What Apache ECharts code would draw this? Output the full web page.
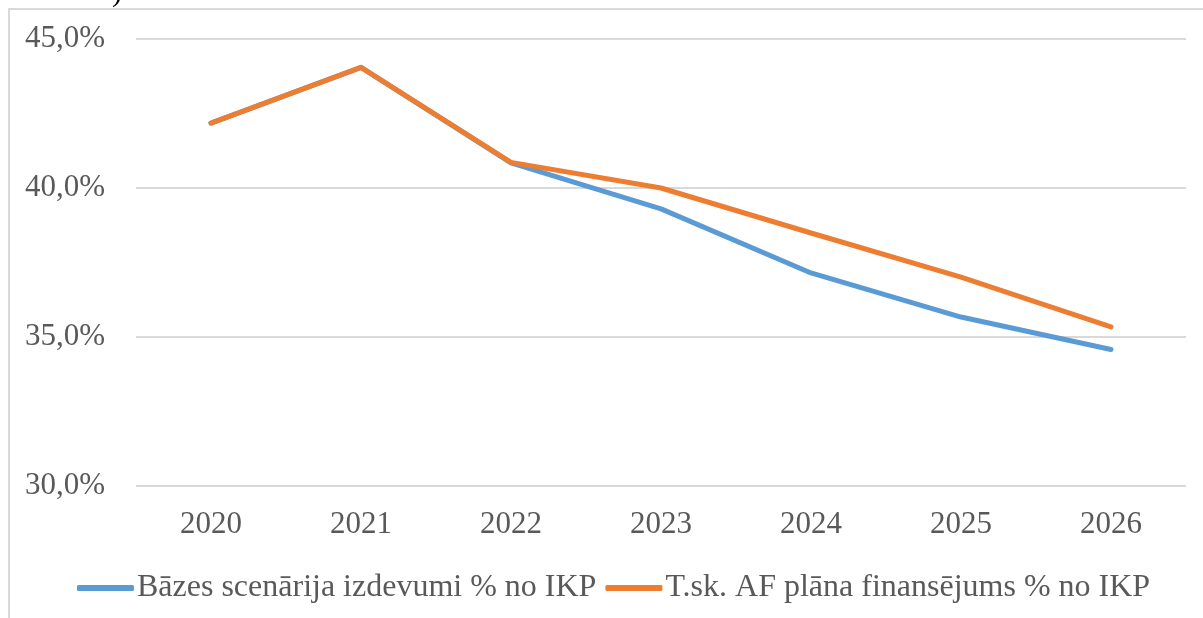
<!DOCTYPE html>
<html>
<head>
<meta charset="utf-8">
<script src="https://cdn.jsdelivr.net/npm/echarts@6/dist/echarts.min.js"></script>
<style>
  html, body { margin: 0; padding: 0; background: #fff; }
  #chart { width: 1203px; height: 618px; }
</style>
</head>
<body>
<div id="chart"></div>
<script>
// dati
const years = ['2020', '2021', '2022', '2023', '2024', '2025', '2026']
const baseSpend = [42.18, 44.05, 40.84, 39.3, 37.15, 35.67, 34.58]
const afFunding = [42.18, 44.05, 40.86, 40.0, 38.49, 37.01, 35.34]
const seriesNames = ['Bāzes scenārija izdevumi % no IKP', 'T.sk. AF plāna finansējums % no IKP']

const colors = ['#5B9BD5', '#ED7D31']
const textColor = '#595959'
const font = 'Liberation Serif'

const chart = echarts.init(document.getElementById('chart'))

const lineSeries = (name, data) => ({
  name,
  type: 'line',
  data,
  symbol: 'none',
  lineStyle: { width: 5, cap: 'round', join: 'round' },
})

chart.setOption({
  animation: false,
  color: colors,
  textStyle: { fontFamily: font },
  graphic: [
    {
      type: 'rect',
      shape: { x: 9, y: 9, width: 1220, height: 640 },
      style: { fill: 'none', stroke: '#D9D9D9', lineWidth: 2 },
      silent: true,
    },
    {
      type: 'text',
      left: 112,
      top: -22,
      style: { text: ')', font: '30px "Liberation Serif"', fill: '#000' },
    },
  ],
  grid: { left: 136, right: 17, top: 39, bottom: 132 },
  legend: {
    top: 567,
    left: 72,
    itemWidth: 57,
    itemHeight: 6,
    itemGap: 9,
    icon: 'roundRect',
    textStyle: { fontFamily: font, fontSize: 32, color: textColor, padding: [0, 0, 0, -2] },
    data: seriesNames,
  },
  xAxis: {
    type: 'category',
    data: years,
    boundaryGap: true,
    axisLine: { show: false },
    axisTick: { show: false },
    axisLabel: { fontFamily: font, fontSize: 31, color: textColor, margin: 23 },
  },
  yAxis: {
    type: 'value',
    min: 30,
    max: 45,
    interval: 5,
    axisLine: { show: false },
    axisTick: { show: false },
    splitLine: { lineStyle: { color: '#D9D9D9', width: 2 } },
    axisLabel: {
      fontFamily: font,
      fontSize: 31,
      color: textColor,
      margin: 31,
      formatter: v => v.toFixed(1).replace('.', ',') + '%',
    },
  },
  series: [
    lineSeries(seriesNames[0], baseSpend),
    lineSeries(seriesNames[1], afFunding),
  ],
})
</script>
</body>
</html>
